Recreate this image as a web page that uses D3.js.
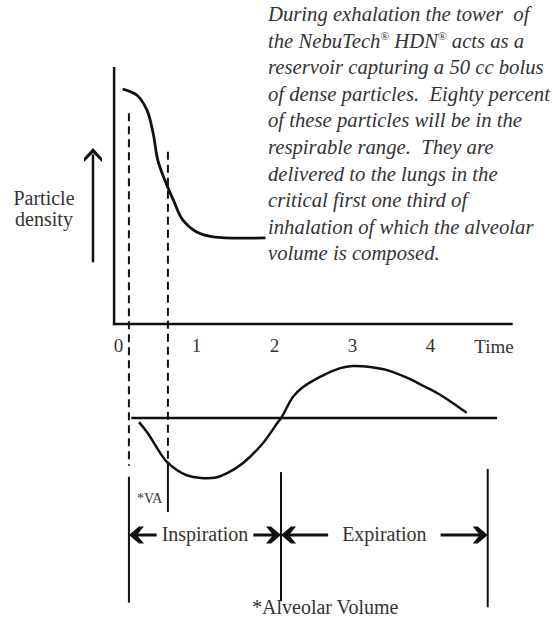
<!DOCTYPE html>
<html>
<head>
<meta charset="utf-8">
<script src="https://cdn.jsdelivr.net/npm/d3@7/dist/d3.min.js"></script>
<style>
  body { margin: 0; background: #fff; }
  svg { display: block; }
</style>
</head>
<body>
<div id="chart"></div>
<script>
// ---------------- data ----------------
var tickValues = [0, 1, 2, 3, 4];

// particle density in the tower (0..1) against time
var densityTime  = [0.06, 0.24, 0.37, 0.45, 0.51, 0.60, 0.71, 0.83, 1.01, 1.22, 1.89];
var densityValue = [0.914, 0.891, 0.833, 0.743, 0.638, 0.560, 0.482, 0.405, 0.358, 0.339, 0.335];

// breathing flow (inspiration negative, expiration positive)
var flowTime  = [0.27, 0.38, 0.54, 0.63, 0.88, 1.24, 1.40, 1.60, 1.86, 2.04, 2.10, 2.24, 2.36, 2.59, 2.85, 3.01, 3.23, 3.45, 3.71, 3.91, 4.09, 4.29, 4.47];
var flowValue = [-0.08, -0.29, -0.67, -0.85, -1.10, -1.15, -1.06, -0.87, -0.48, -0.10, 0.02, 0.40, 0.58, 0.79, 0.96, 1.00, 0.98, 0.92, 0.77, 0.62, 0.48, 0.29, 0.10];

var phaseBounds = [0.14, 2.09, 4.74];   // start insp, end insp / start exp, end exp
var vaEnd = 0.64;                       // end of the alveolar volume bolus
var phaseLabels = ["Inspiration", "Expiration"];

var noteLines = [
  "During exhalation the tower  of",
  "the NebuTech\u00ae HDN\u00ae acts as a",
  "reservoir capturing a 50 cc bolus",
  "of dense particles.  Eighty percent",
  "of these particles will be in the",
  "respirable range.  They are",
  "delivered to the lungs in the",
  "critical first one third of",
  "inhalation of which the alveolar",
  "volume is composed."
];

// ---------------- setup ----------------
var width = 553, height = 620;
var serif = "'Liberation Serif', 'Times New Roman', serif";
var ink = "#111", textInk = "#333";

var svg = d3.select('#chart')
  .append('svg')
    .attr('width', width)
    .attr('height', height);

var x = d3.scaleLinear().domain([0, 4]).range([118, 430]);
var yDensity = d3.scaleLinear().domain([0, 1]).range([324, 67]);
var yFlow = d3.scaleLinear().domain([-1, 1]).range([470, 366]);

///////////////////// top chart: axes /////////////////////
svg.append('line')
  .attr('x1', x(-0.05)).attr('x2', x(-0.05))
  .attr('y1', yDensity(1)).attr('y2', yDensity(0) + 1.2)
  .attr('stroke', ink).attr('stroke-width', 2.5);

svg.append('line')
  .attr('x1', x(-0.05) - 1.2).attr('x2', x(5.06))
  .attr('y1', yDensity(0)).attr('y2', yDensity(0))
  .attr('stroke', ink).attr('stroke-width', 2.5);

var xAxis = d3.axisBottom(x)
  .tickValues(tickValues)
  .tickSize(0)
  .tickPadding(0)
  .tickFormat(d3.format('d'));

var axisG = svg.append('g')
  .attr('transform', 'translate(0,' + yDensity(0) + ')')
  .call(xAxis);
axisG.select('.domain').remove();
axisG.selectAll('text')
  .attr('y', 28)
  .attr('dy', null)
  .attr('fill', textInk)
  .attr('font-family', serif)
  .attr('font-size', 19);

svg.append('text')
  .attr('x', x(4.82))
  .attr('y', yDensity(0) + 29)
  .attr('text-anchor', 'middle')
  .attr('fill', textInk)
  .attr('font-family', serif)
  .attr('font-size', 19)
  .text('Time');

// y label with arrow
var arrowX = 93;
svg.append('line')
  .attr('x1', arrowX).attr('x2', arrowX)
  .attr('y1', yDensity(0.24)).attr('y2', yDensity(0.66))
  .attr('stroke', ink).attr('stroke-width', 2.5);
svg.append('path')
  .attr('transform', 'translate(' + arrowX + ',' + yDensity(0.685) + ')')
  .attr('d', 'M0,0 L9,10 L9,14 L0,5 L-9,14 L-9,10 Z')
  .attr('fill', ink);

svg.append('text')
  .attr('x', 44).attr('y', 205)
  .attr('text-anchor', 'middle')
  .attr('fill', textInk)
  .attr('font-family', serif)
  .attr('font-size', 20)
  .selectAll('tspan')
  .data(['Particle', 'density'])
  .enter().append('tspan')
    .attr('x', 44)
    .attr('dy', function(d, i) { return i ? 21 : 0; })
    .text(function(d) { return d; });

///////////////////// top chart: density curve /////////////////////
var densityLine = d3.line()
  .x(function(d, i) { return x(densityTime[i]); })
  .y(function(d) { return yDensity(d); })
  .curve(d3.curveCatmullRom.alpha(0.5));

svg.append('path')
  .attr('d', densityLine(densityValue))
  .attr('fill', 'none')
  .attr('stroke', ink)
  .attr('stroke-width', 2.8)
  .attr('stroke-linecap', 'butt');

///////////////////// dashed guides /////////////////////
svg.append('line')
  .attr('x1', x(phaseBounds[0])).attr('x2', x(phaseBounds[0]))
  .attr('y1', yDensity(0.82)).attr('y2', yFlow(-0.92))
  .attr('stroke', ink).attr('stroke-width', 2)
  .attr('stroke-dasharray', '8,5');

svg.append('line')
  .attr('x1', x(vaEnd)).attr('x2', x(vaEnd))
  .attr('y1', yDensity(0.67)).attr('y2', yFlow(-0.8))
  .attr('stroke', ink).attr('stroke-width', 2)
  .attr('stroke-dasharray', '8,5');

svg.append('line')
  .attr('x1', x(vaEnd)).attr('x2', x(vaEnd))
  .attr('y1', yFlow(-0.84)).attr('y2', yFlow(-1.81))
  .attr('stroke', ink).attr('stroke-width', 2);

svg.append('text')
  .attr('x', x(phaseBounds[0]) + 8)
  .attr('y', yFlow(-1.63))
  .attr('fill', textInk)
  .attr('font-family', serif)
  .attr('font-size', 14)
  .text('*VA');

///////////////////// bottom chart: flow curve /////////////////////
svg.append('line')
  .attr('x1', x(0.17)).attr('x2', x(4.86))
  .attr('y1', yFlow(0)).attr('y2', yFlow(0))
  .attr('stroke', ink).attr('stroke-width', 2.5);

var flowLine = d3.line()
  .x(function(d, i) { return x(flowTime[i]); })
  .y(function(d) { return yFlow(d); })
  .curve(d3.curveCatmullRom.alpha(0.5));

svg.append('path')
  .attr('d', flowLine(flowValue))
  .attr('fill', 'none')
  .attr('stroke', ink)
  .attr('stroke-width', 2.5);

///////////////////// phase markers /////////////////////
var markerTop = [-1.13, -1.04, -0.98];
var markerBottom = [-3.55, -3.52, -3.64];
svg.selectAll('.phase-marker')
  .data(phaseBounds)
  .enter().append('line')
    .attr('class', 'phase-marker')
    .attr('x1', function(d) { return x(d); })
    .attr('x2', function(d) { return x(d); })
    .attr('y1', function(d, i) { return yFlow(markerTop[i]); })
    .attr('y2', function(d, i) { return yFlow(markerBottom[i]); })
    .attr('stroke', ink)
    .attr('stroke-width', 2);

var rowY = yFlow(-2.25);
function chevron(px, dir) {
  // dir -1 points left, +1 points right
  var s = -dir;
  svg.append('path')
    .attr('transform', 'translate(' + px + ',' + rowY + ')')
    .attr('d', 'M0,0 L' + 10 * s + ',-8.5 L' + 15 * s + ',-8.5 L' + 8 * s + ',0 L' + 15 * s + ',8.5 L' + 10 * s + ',8.5 Z')
    .attr('fill', ink);
}

phaseLabels.forEach(function(lbl, i) {
  var a = x(phaseBounds[i]), b = x(phaseBounds[i + 1]);
  var cx = (a + b) / 2;
  var t = svg.append('text')
    .attr('x', cx)
    .attr('y', rowY + 6)
    .attr('text-anchor', 'middle')
    .attr('fill', textInk)
    .attr('font-family', serif)
    .attr('font-size', 20)
    .text(lbl);
  var w = t.node().getComputedTextLength();
  var gap = i === 0 ? 5 : 14;
  svg.append('line')
    .attr('x1', a + 3).attr('x2', cx - w / 2 - gap)
    .attr('y1', rowY).attr('y2', rowY)
    .attr('stroke', ink).attr('stroke-width', 3);
  svg.append('line')
    .attr('x1', cx + w / 2 + gap).attr('x2', b - 3)
    .attr('y1', rowY).attr('y2', rowY)
    .attr('stroke', ink).attr('stroke-width', 3);
  chevron(a, -1);
  chevron(b, 1);
});

svg.append('text')
  .attr('x', 252)
  .attr('y', 614)
  .attr('fill', textInk)
  .attr('font-family', serif)
  .attr('font-size', 20)
  .text('*Alveolar Volume');

///////////////////// note text /////////////////////
var note = svg.append('g')
  .attr('font-family', serif)
  .attr('font-style', 'italic')
  .attr('fill', textInk)
  .attr('font-size', 20);

note.selectAll('text')
  .data(noteLines)
  .enter().append('text')
    .attr('x', 268)
    .attr('y', function(d, i) { return 21 + i * 26.6; })
    .style('white-space', 'pre')
    .each(function(d) {
      var t = d3.select(this);
      var parts = d.split('\u00ae');
      parts.forEach(function(p, j) {
        var span = t.append('tspan').text(p);
        if (j > 0) span.attr('dy', '0.35em');
        if (j < parts.length - 1) {
          t.append('tspan')
            .attr('font-size', '0.55em')
            .attr('font-style', 'normal')
            .attr('dy', '-0.64em')
            .text('\u00ae');
        }
      });
    });

// fit the italic block to the width of the widest line in the picture
var widest = d3.max(note.selectAll('text').nodes(), function(n) { return n.getComputedTextLength(); });
note.attr('font-size', 20 * 282 / widest);
</script>
</body>
</html>
